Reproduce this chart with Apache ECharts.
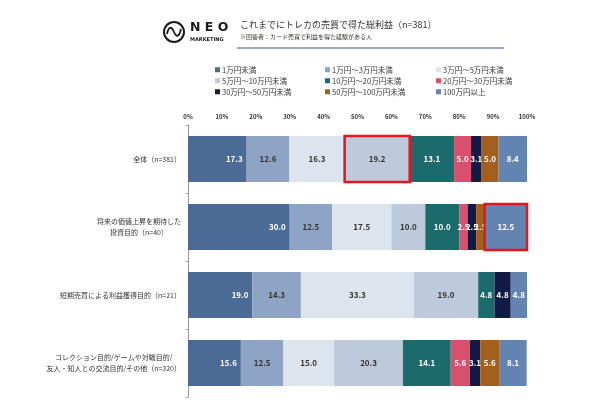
<!DOCTYPE html>
<html><head><meta charset="utf-8">
<script src="https://cdn.jsdelivr.net/npm/echarts@6/dist/echarts.min.js"></script>
<style>html,body{margin:0;padding:0;background:#fff}#c{width:600px;height:403px}</style>
</head><body><div id="c"></div>
<script>
const categories = [
  '全体（n=381）',
  '将来の価値上昇を期待した\n投資目的（n=40）',
  '短期売買による利益獲得目的（n=21）',
  'コレクション目的/ゲームや対戦目的/\n友人・知人との交流目的/その他（n=320）'
];
const seriesNames = ['1万円未満','1万円～3万円未満','3万円～5万円未満','5万円～10万円未満','10万円～20万円未満','20万円～30万円未満','30万円～50万円未満','50万円～100万円未満','100万円以上'];
const s1 = [17.3, 30.0, 19.0, 15.6];
const s2 = [12.6, 12.5, 14.3, 12.5];
const s3 = [16.3, 17.5, 33.3, 15.0];
const s4 = [19.2, 10.0, 19.0, 20.3];
const s5 = [13.1, 10.0, 4.8, 14.1];
const s6 = [5.0, 2.5, 0, 5.6];
const s7 = [3.1, 2.5, 4.8, 3.1];
const s8 = [5.0, 2.5, 0, 5.6];
const s9 = [8.4, 12.5, 4.8, 8.1];
const xTicks = ['0%','10%','20%','30%','40%','50%','60%','70%','80%','90%','100%'];
const highlights = [[0, 3], [1, 8]]; // [category index, series index]

const allSeries = [s1,s2,s3,s4,s5,s6,s7,s8,s9];
const colors = ['#4b6b96','#8ea4c4','#dce4ee','#bdcadc','#1b6a6c','#d9506e','#141a46','#a3601c','#6384b0'];
const labelColors = ['#fff','#333','#333','#333','#fff','#fff','#fff','#fff','#fff'];
const FONT = '"Noto Sans CJK JP", "Noto Sans", sans-serif';

const chart = echarts.init(document.getElementById('c'), null, {renderer:'canvas'});

const barSeries = allSeries.map((d, i) => ({
  name: seriesNames[i], type: 'bar', stack: 'all', data: d,
  barWidth: 46,
  itemStyle: {color: colors[i]},
  label: {
    show: true, position: i === 0 ? 'insideRight' : 'inside', distance: 4,
    color: labelColors[i], fontSize: 8, fontWeight: 'bold', fontFamily: FONT,
    formatter: p => p.value > 0 ? p.value.toFixed(1) : ''
  }
}));

const hlData = highlights.map(([c, s]) => {
  let start = 0;
  for (let k = 0; k < s; k++) start += allSeries[k][c];
  return [start, start + allSeries[s][c], c];
});

const customSeries = {
  type: 'custom', z: 10, silent: true,
  data: hlData,
  renderItem: (params, api) => {
    const p0 = api.coord([api.value(0), api.value(2)]);
    const p1 = api.coord([api.value(1), api.value(2)]);
    const h = 46;
    return {type: 'rect', shape: {x: p0[0], y: p0[1] - h/2, width: p1[0] - p0[0], height: h},
      style: {fill: 'none', stroke: '#e8141b', lineWidth: 2.5}};
  }
};

const legendCols = [[0,3,6],[1,4,7],[2,5,8]];
const legendX = [210, 320, 431];
const legends = legendCols.map((col, j) => ({
  orient: 'vertical', left: legendX[j], top: 61, itemGap: 3.5,
  itemWidth: 5, itemHeight: 5, icon: 'rect',
  data: col.map(i => seriesNames[i]),
  textStyle: {fontSize: 7.5, color: '#333', fontFamily: FONT, padding: [0, 0, 0, -3]},
  selectedMode: false
}));

chart.setOption({
  animation: false,
  textStyle: {fontFamily: FONT},
  graphic: [
    {type: 'circle', shape: {cx: 174, cy: 32, r: 10}, style: {fill: 'none', stroke: '#1a1a1a', lineWidth: 2}},
    {type: 'bezierCurve', shape: {x1: 167, y1: 34, cpx1: 169, cpy1: 25, cpx2: 172, cpy2: 27, x2: 174, y2: 32}, style: {fill: 'none', stroke: '#1a1a1a', lineWidth: 1.8}},
    {type: 'bezierCurve', shape: {x1: 174, y1: 32, cpx1: 176, cpy1: 37, cpx2: 179, cpy2: 38, x2: 181, y2: 29}, style: {fill: 'none', stroke: '#1a1a1a', lineWidth: 1.8}},
    {type: 'text', left: 190, top: 21, style: {text: 'N E O', fontSize: 12.5, fontWeight: 'bold', fill: '#1a1a1a', fontFamily: '"DejaVu Sans", sans-serif'}},
    {type: 'text', left: 190, top: 37, style: {text: 'MARKETING', fontSize: 5, fontWeight: 'bold', fill: '#1a1a1a', fontFamily: '"DejaVu Sans", sans-serif'}},
    {type: 'text', left: 240, top: 20, style: {text: 'これまでにトレカの売買で得た総利益（n=381）', fontSize: 9, fill: '#333', fontFamily: FONT}},
    {type: 'text', left: 240, top: 34, style: {text: '※回答者：カード売買で利益を得た経験がある人', fontSize: 6, fill: '#333', fontFamily: FONT}},
    {type: 'line', shape: {x1: 237, y1: 48, x2: 504, y2: 48}, style: {stroke: '#3d4f9a', lineWidth: 1}}
  ],
  legend: legends,
  grid: {left: 188, right: 73, top: 125, bottom: 6},
  xAxis: {
    type: 'value', position: 'top', min: 0, max: 100, interval: 10,
    axisLine: {show: false}, axisTick: {show: false}, splitLine: {show: false},
    axisLabel: {formatter: v => xTicks[Math.round(v/10)], fontSize: 6, fontWeight: 'bold', color: '#333', margin: 5}
  },
  yAxis: {
    type: 'category', data: categories, inverse: true,
    axisLine: {lineStyle: {color: '#999', width: 1}},
    axisTick: {show: true, length: 2, lineStyle: {color: '#999'}},
    axisLabel: {
      fontSize: 7, color: '#333', margin: 7, lineHeight: 11,
      formatter: v => v.split('\n').map(l => '{c|' + l + '}').join('\n'),
      rich: {c: {fontSize: 7, color: '#333', align: 'center', lineHeight: 11, fontFamily: FONT}}
    }
  },
  series: [...barSeries, customSeries]
});
</script></body></html>
